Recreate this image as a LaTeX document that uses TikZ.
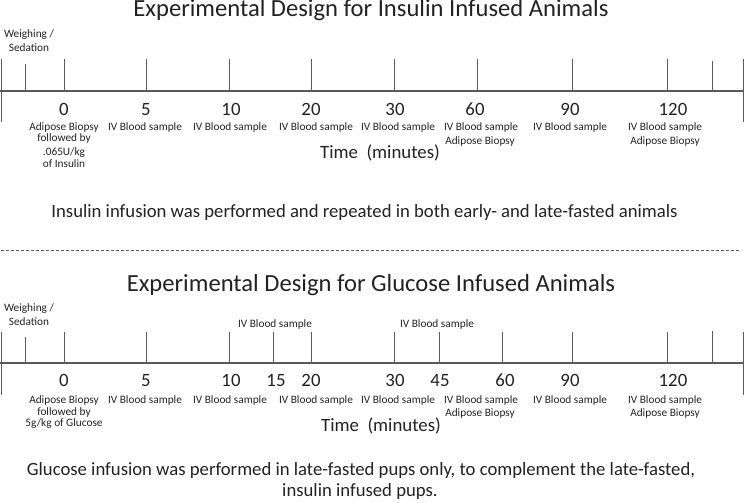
\documentclass[tikz,border=0pt]{standalone}
\usepackage{fontspec}
\setmainfont{Carlito}
\definecolor{linec}{HTML}{5A5A5A}
\definecolor{txt}{HTML}{222222}
\tikzset{
  axisline/.style={draw=linec, line width=1.1pt},
  tickline/.style={draw=linec, line width=0.8pt},
  small/.style={inner sep=0pt, anchor=base, text=txt, font=\fontsize{11.3}{13}\selectfont},
  num/.style={inner sep=0pt, anchor=base, text=txt, font=\fontsize{18.8}{22}\selectfont},
  titletext/.style={inner sep=0pt, anchor=base, text=txt, font=\fontsize{24.6}{28}\selectfont},
  sentence/.style={inner sep=0pt, anchor=base, text=txt, font=\fontsize{18.7}{22}\selectfont},
  sep/.style={draw=linec, line width=0.8pt, dash pattern=on 3pt off 2pt}
}
\begin{document}
\begin{tikzpicture}[x=1pt,y=-1pt]
\useasboundingbox (0,0) rectangle (744,503);
% ---------------- top ----------------
\node[titletext] (t1) at (371,17) {Experimental Design for Insulin Infused Animals};
\node[small] (w1a) at (29,37.7) {Weighing /};
\node[small] (w1b) at (29,51.7) {Sedation};
\coordinate (aL) at (0,91);
\coordinate (aR) at (744,91);
\draw[axisline] (aL) -- (aR);
\draw[tickline] (1,59) -- (1,122);
\draw[tickline] (743,59) -- (743,122);
\draw[tickline] (25,64) -- (25,91);
\foreach \x in {64,146,229,311,394,477,572,667}{\draw[tickline] (\x,59) -- (\x,91);}
\draw[tickline] (712,61) -- (712,91);
\node[num] (n0) at (64,115) {0};
\node[num] (n5) at (146,115) {5};
\node[num] (n10) at (231,115) {10};
\node[num] (n20) at (311,115) {20};
\node[num] (n30) at (395,115) {30};
\node[num] (n60) at (475,115) {60};
\node[num] (n90) at (570,115) {90};
\node[num] (n120) at (673,115) {120};
\node[small] (a1) at (64,130) {Adipose Biopsy};
\node[small] (a2) at (64,141.7) {followed by};
\node[small] (a3) at (64,155) {.065U/kg};
\node[small] (a4) at (64,167.3) {of Insulin};
\node[small] (b5) at (145,130) {IV Blood sample};
\node[small] (b10) at (230,130) {IV Blood sample};
\node[small] (b20) at (316,130) {IV Blood sample};
\node[small] (b30) at (398,130) {IV Blood sample};
\node[small] (b60) at (481,130) {IV Blood sample};
\node[small] (c60) at (480,144) {Adipose Biopsy};
\node[small] (b90) at (570,130) {IV Blood sample};
\node[small] (b120) at (665,130) {IV Blood sample};
\node[small] (c120) at (665,144) {Adipose Biopsy};
\node[num] (time1) at (380,158) {Time~~(minutes)};
\node[sentence] (s1) at (364.5,217.3) {Insulin infusion was performed and repeated in both early- and late-fasted animals};
% separator
\coordinate (dL) at (1,250);
\coordinate (dR) at (740,250);
\draw[sep] (dL) -- (dR);
% ---------------- bottom ----------------
\node[titletext] (t2) at (371,291.7) {Experimental Design for Glucose Infused Animals};
\node[small] (w2a) at (29,311.7) {Weighing /};
\node[small] (w2b) at (29,325) {Sedation};
\node[small] (u15) at (275,327.7) {IV Blood sample};
\node[small] (u45) at (437,327.7) {IV Blood sample};
\coordinate (gL) at (0,363);
\coordinate (gR) at (744,363);
\draw[axisline] (gL) -- (gR);
\draw[tickline] (1,332) -- (1,395);
\draw[tickline] (743,332) -- (743,395);
\draw[tickline] (25,337) -- (25,363);
\foreach \x in {64,146,229,273,311,394,439,502,572,667}{\draw[tickline] (\x,332) -- (\x,363);}
\draw[tickline] (712,331) -- (712,363);
\node[num] (m0) at (64,386.7) {0};
\node[num] (m5) at (146,386.7) {5};
\node[num] (m10) at (231,386.7) {10};
\node[num] (m15) at (276,386.7) {15};
\node[num] (m20) at (311,386.7) {20};
\node[num] (m30) at (395,386.7) {30};
\node[num] (m45) at (440,386.7) {45};
\node[num] (m60) at (505,386.7) {60};
\node[num] (m90) at (570,386.7) {90};
\node[num] (m120) at (673,386.7) {120};
\node[small] (g1) at (64,403.3) {Adipose Biopsy};
\node[small] (g2) at (64,415) {followed by};
\node[small] (g3) at (64,426.7) {5g/kg of Glucose};
\node[small] (d5) at (145,403.3) {IV Blood sample};
\node[small] (d10) at (230,403.3) {IV Blood sample};
\node[small] (d20) at (316,403.3) {IV Blood sample};
\node[small] (d30) at (398,403.3) {IV Blood sample};
\node[small] (d45) at (481,403.3) {IV Blood sample};
\node[small] (e45) at (480,416.7) {Adipose Biopsy};
\node[small] (d90) at (570,403.3) {IV Blood sample};
\node[small] (d120) at (665,403.3) {IV Blood sample};
\node[small] (e120) at (665,416.7) {Adipose Biopsy};
\node[num] (time2) at (381,431.7) {Time~~(minutes)};
\node[sentence] (s2a) at (361,475) {Glucose infusion was performed in late-fasted pups only, to complement the late-fasted,};
\node[sentence] (s2b) at (360,496.7) {insulin infused pups.};
\end{tikzpicture}
\end{document}
